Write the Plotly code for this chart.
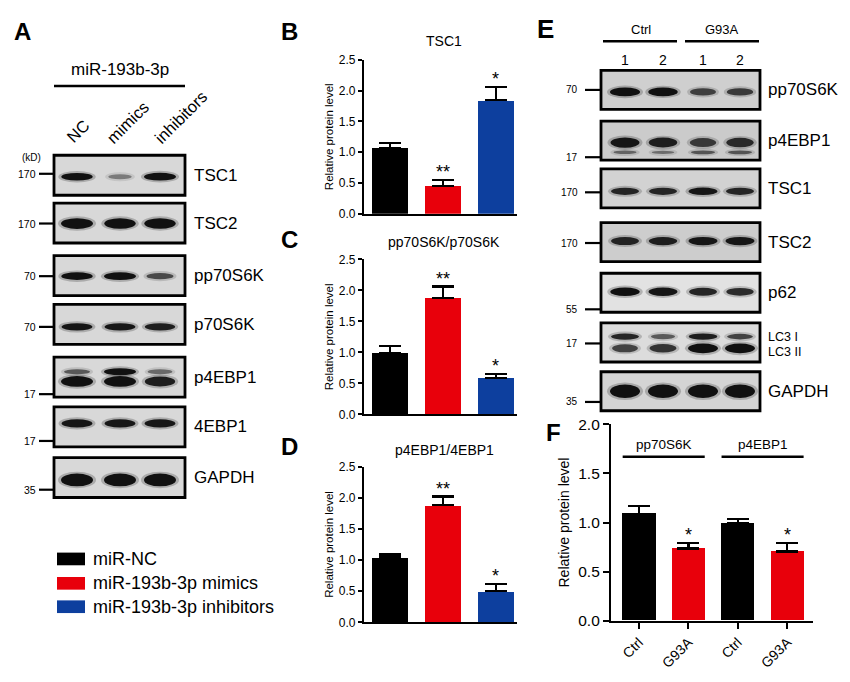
import plotly.graph_objects as go

W, H = 850, 682
def px(x): return x / W
def py(y): return 1 - y / H

FONT = "Arial, Liberation Sans, Helvetica, sans-serif"

# ---------------- data ----------------
groups = ["miR-NC", "miR-193b-3p mimics", "miR-193b-3p inhibitors"]
group_colors = ["#000000", "#e8000b", "#0d3f9e"]

tsc1_mean = [1.07, 0.45, 1.84]
tsc1_sem = [0.08, 0.10, 0.22]
tsc1_sig = ["", "**", "*"]

pp70_mean = [0.99, 1.87, 0.58]
pp70_sem = [0.11, 0.19, 0.07]
pp70_sig = ["", "**", "*"]

p4ebp1_mean = [1.04, 1.88, 0.50]
p4ebp1_sem = [0.05, 0.14, 0.12]
p4ebp1_sig = ["", "**", "*"]

f_ticks = ["Ctrl", "G93A", "Ctrl", "G93A"]
f_groups = ["pp70S6K", "p4EBP1"]
f_mean = [1.09, 0.735, 0.99, 0.705]
f_sem = [0.075, 0.055, 0.05, 0.09]
f_sig = ["", "*", "", "*"]
f_colors = ["#000000", "#e8000b", "#000000", "#e8000b"]

# western blot A (3 lanes)
blotA_title = "miR-193b-3p"
blotA_lanes = ["NC", "mimics", "inhibitors"]
blotA_proteins = ["TSC1", "TSC2", "pp70S6K", "p70S6K", "p4EBP1", "4EBP1", "GAPDH"]
blotA_markers = ["170", "170", "70", "70", "17", "17", "35"]
blotA_bands = [
    [[0.95, 0.25, 1.0]],
    [[1.0, 0.95, 0.95]],
    [[0.95, 1.0, 0.55]],
    [[0.9, 0.9, 0.85]],
    [[0.45, 1.0, 0.35], [1.0, 1.0, 0.85]],
    [[0.9, 0.9, 0.9]],
    [[1.0, 1.0, 1.0]],
]

# western blot E (4 lanes)
blotE_groups = ["Ctrl", "G93A"]
blotE_lanes = ["1", "2", "1", "2"]
blotE_proteins = ["pp70S6K", "p4EBP1", "TSC1", "TSC2", "p62", "LC3 I|LC3 II", "GAPDH"]
blotE_markers = ["70", "17", "170", "170", "55", "17", "35"]
blotE_bands = [
    [[1.0, 0.95, 0.6, 0.65]],
    [[0.9, 0.85, 0.65, 0.75], [0.35, 0.3, 0.45, 0.45]],
    [[0.8, 0.8, 0.9, 0.8]],
    [[0.8, 0.85, 0.9, 0.9]],
    [[0.95, 0.9, 0.8, 0.75]],
    [[0.8, 0.45, 0.85, 0.6], [0.6, 0.7, 1.0, 1.0]],
    [[1.0, 1.0, 1.0, 1.0]],
]

# ---------------- figure ----------------
fig = go.Figure()
shapes = []
ann = []

def text(x, y, t, size, xanchor="center", yanchor="middle", bold=False, angle=0, color="black"):
    ann.append(dict(x=px(x), y=py(y), xref="paper", yref="paper", text=("<b>%s</b>" % t) if bold else t,
                    showarrow=False, xanchor=xanchor, yanchor=yanchor, textangle=angle, borderpad=0,
                    font=dict(family=FONT, size=size, color=color)))

def line(x0, y0, x1, y1, w=2.5):
    shapes.append(dict(type="line", xref="paper", yref="paper", x0=px(x0), y0=py(y0), x1=px(x1), y1=py(y1),
                       line=dict(color="black", width=w)))

def band(cx, cy, w, h, inten):
    op = min(1.0, 0.2 + 0.85 * inten)
    ww = w * (0.65 + 0.35 * inten)
    hh = h * (0.55 + 0.45 * inten)
    shapes.append(dict(type="circle", xref="paper", yref="paper",
                       x0=px(cx - ww / 2 - 3), x1=px(cx + ww / 2 + 3), y0=py(cy + hh / 2 + 2), y1=py(cy - hh / 2 - 2),
                       fillcolor="#222222", opacity=0.25 * op, line=dict(width=0)))
    shapes.append(dict(type="circle", xref="paper", yref="paper",
                       x0=px(cx - ww / 2), x1=px(cx + ww / 2), y0=py(cy + hh / 2), y1=py(cy - hh / 2),
                       fillcolor="#111111", opacity=op, line=dict(width=0)))

def blot_panel(left, right, tops, height, lanes_x, bands, offsets, heights, bw, markers, mark_y,
               mark_label_right, tick_x0, mark_size, labels, label_x, bg):
    for i, top in enumerate(tops):
        shapes.append(dict(type="rect", xref="paper", yref="paper", x0=px(left), x1=px(right),
                           y0=py(top + height), y1=py(top), fillcolor=bg[i], line=dict(color="black", width=2.8)))
        for r, row in enumerate(bands[i]):
            for j, inten in enumerate(row):
                band(lanes_x[j], top + offsets[i][r], bw, heights[i][r], inten)
        line(tick_x0, mark_y[i], left, mark_y[i], 2.2)
        text(mark_label_right, mark_y[i], markers[i], mark_size, xanchor="right")
        lab = labels[i]
        if "|" in lab:
            l1, l2 = lab.split("|")
            text(label_x, top + 14, l1, 12.5, xanchor="left")
            text(label_x, top + 30, l2, 12.5, xanchor="left")
        else:
            text(label_x, top + height / 2, lab, 17, xanchor="left")

# --- Panel A blots
A_tops = [150, 199, 253, 303, 357, 408, 460]
A_mark_y = [169, 220, 274, 326, 395, 443, 493]
A_offsets = [[22], [21], [21], [23], [15, 25], [17], [23]]
A_heights = [[8], [11], [8], [8], [7, 11], [9], [13]]
blot_panel(54, 185, A_tops, 41, [77, 120, 160], blotA_bands, A_offsets, A_heights, 32,
           blotA_markers, A_mark_y, 37, 39, 10.5, blotA_proteins, 193, ["#d8d8d8"] * 7)
text(32, 152, "(kD)", 10)
text(120, 62, blotA_title, 17)
line(54, 79, 185, 79)
for xc, yc, lab in zip([78, 128, 181], [125, 116, 111], blotA_lanes):
    text(xc, yc, lab, 16.5, angle=-45)

# --- Panel E blots
E_tops = [63, 115, 164, 219, 271, 322, 372]
E_mark_y = [83, 152, 188, 240, 308, 343, 403]
E_offsets = [[22], [22, 32], [23], [19], [19], [14, 26], [20]]
E_heights = [[9], [11, 5], [8], [9], [9], [7, 10], [14]]
E_bg = ["#cfcfcf", "#cbcbcb", "#d2d2d2", "#cdcdcd", "#e2e2e2", "#dcdcdc", "#d4d4d4"]
blot_panel(601, 760, E_tops, 40, [625, 663, 703, 740], blotE_bands, E_offsets, E_heights, 30,
           blotE_markers, E_mark_y, 579, 585, 10, blotE_proteins, 767, E_bg)
text(641, 21, blotE_groups[0], 13)
text(722, 21, blotE_groups[1], 13)
line(603, 33, 677, 33)
line(685, 33, 759, 33)
for xc, lab in zip([625, 663, 703, 740], blotE_lanes):
    text(xc, 52, lab, 14)

# --- Legend (A)
for yc, g, c in zip([564, 589, 613], groups, group_colors):
    shapes.append(dict(type="rect", xref="paper", yref="paper", x0=px(57), x1=px(85),
                       y0=py(yc + 6.5), y1=py(yc - 6.5), fillcolor=c, line=dict(width=0)))
    text(92, yc, g, 18, xanchor="left")

# --- bar charts B, C, D
bar_panels = [
    ("", tsc1_mean, tsc1_sem, tsc1_sig, "TSC1", 52, 210, 33),
    ("2", pp70_mean, pp70_sem, pp70_sig, "pp70S6K/p70S6K", 256.7, 415.7, 239),
    ("3", p4ebp1_mean, p4ebp1_sem, p4ebp1_sig, "p4EBP1/4EBP1", 469.3, 629, 452.5),
]
for suf, mean, sem, sig, title, ytop, ybot, ttl_y in bar_panels:
    fig.add_trace(go.Bar(x=[0, 1, 2], y=mean, width=0.68, marker=dict(color=group_colors, line=dict(width=0)),
                         error_y=dict(type="data", array=sem, arrayminus=[0] * len(sem), symmetric=False,
                                      color="black", thickness=2.2, width=11),
                         xaxis="x" + suf, yaxis="y" + suf, showlegend=False))
    for i, (m, s, t) in enumerate(zip(mean, sem, sig)):
        if t:
            ann.append(dict(x=i, y=m + s, xref="x" + suf, yref="y" + suf, text=t, showarrow=False,
                            yanchor="bottom", yshift=-4, font=dict(family=FONT, size=18, color="black")))
    text(444, ttl_y, title, 14)
    fig.layout["xaxis" + suf] = dict(domain=[px(364), px(517)], range=[-0.49, 2.4], showline=True,
                                     linewidth=2.2, linecolor="black", showticklabels=False, ticks="",
                                     showgrid=False, zeroline=False, anchor="y" + suf, fixedrange=True)
    fig.layout["yaxis" + suf] = dict(domain=[py(ybot), py(ytop)], range=[0, 2.5], dtick=0.5, tickformat=".1f",
                                     showline=True, linewidth=2.2, linecolor="black", ticks="outside",
                                     ticklen=4, tickwidth=2, tickcolor="black", showgrid=False, zeroline=False,
                                     tickfont=dict(family=FONT, size=12, color="black"),
                                     title=dict(text="Relative protein level", standoff=3,
                                                font=dict(family=FONT, size=11.5, color="black")),
                                     anchor="x" + suf, fixedrange=True)

# --- panel F
fig.add_trace(go.Bar(x=[0, 1, 2, 3], y=f_mean, width=0.67, marker=dict(color=f_colors, line=dict(width=0)),
                     error_y=dict(type="data", array=f_sem, arrayminus=[0] * 4, symmetric=False,
                                  color="black", thickness=2.2, width=11),
                     xaxis="x4", yaxis="y4", showlegend=False))
for i, (m, s, t) in enumerate(zip(f_mean, f_sem, f_sig)):
    if t:
        ann.append(dict(x=i, y=m + s, xref="x4", yref="y4", text=t, showarrow=False, yanchor="bottom",
                        yshift=-4, font=dict(family=FONT, size=18, color="black")))
for k, g in enumerate(f_groups):
    c = 2 * k + 0.5
    shapes.append(dict(type="line", xref="x4", yref="y4", x0=c - 0.83, x1=c + 0.83, y0=1.67, y1=1.67,
                       line=dict(color="black", width=2.5)))
    ann.append(dict(x=c, y=1.67, xref="x4", yref="y4", text=g, showarrow=False, yanchor="bottom", yshift=3,
                    font=dict(family=FONT, size=13.5, color="black")))
fig.layout["xaxis4"] = dict(domain=[px(611), px(813)], range=[-0.566, 3.52], tickvals=[0, 1, 2, 3],
                            ticktext=f_ticks, tickangle=-45, showline=True, linewidth=2.2, linecolor="black",
                            ticks="outside", ticklen=6, tickwidth=2, tickcolor="black", showgrid=False,
                            zeroline=False, tickfont=dict(family=FONT, size=14, color="black"),
                            anchor="y4", fixedrange=True)
fig.layout["yaxis4"] = dict(domain=[py(627.3), py(426)], range=[0, 2.0], dtick=0.5, tickformat=".1f",
                            showline=True, linewidth=2.2, linecolor="black", ticks="outside", ticklen=6,
                            tickwidth=2, tickcolor="black", showgrid=False, zeroline=False,
                            tickfont=dict(family=FONT, size=15.5, color="black"),
                            title=dict(text="Relative protein level", standoff=5,
                                       font=dict(family=FONT, size=14, color="black")),
                            anchor="x4", fixedrange=True)

# --- panel letters
for lt, x, y, s in [("A", 22, 23, 24), ("B", 289, 23, 24), ("C", 289, 236, 24), ("D", 289, 449, 24),
                    ("E", 545, 21, 26), ("F", 553, 434, 24)]:
    text(x, y, lt, s, bold=True)

fig.update_layout(width=W, height=H, margin=dict(l=0, r=0, t=0, b=0), paper_bgcolor="white",
                  plot_bgcolor="rgba(0,0,0,0)", shapes=shapes, annotations=ann, showlegend=False,
                  bargap=0)
fig.write_html("out.html", config={"displayModeBar": False},
               post_script="document.body.style.margin='0px';")
